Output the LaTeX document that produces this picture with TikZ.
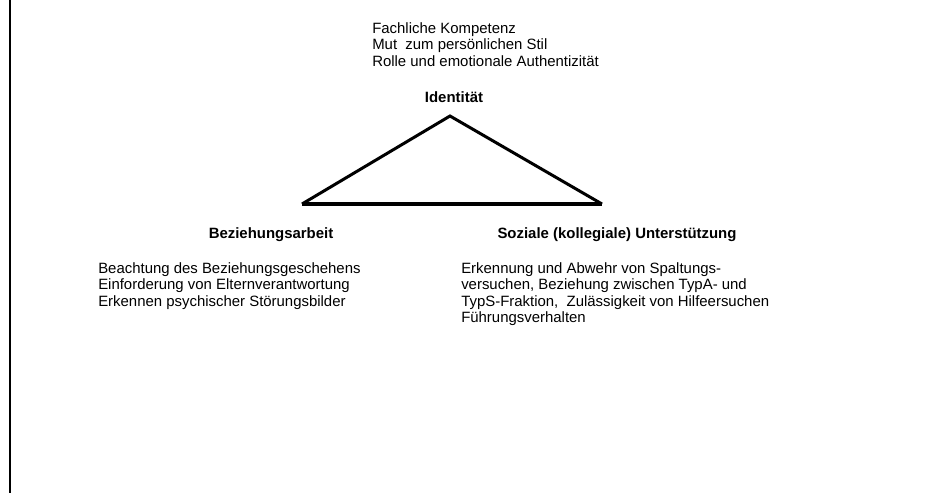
\documentclass[tikz,border=0pt]{standalone}
\usepackage{fontspec}
\setmainfont{Liberation Sans}
\usepackage{tikz}
\tikzset{
  liste/.style={anchor=north west, inner sep=0pt, align=left, font=\fontsize{11.2}{12.4}\selectfont},
  titel/.style={anchor=base, inner sep=0pt, font=\fontsize{11.2}{12.4}\selectfont\bfseries}
}

\begin{document}
\begin{tikzpicture}[x=0.75pt, y=-0.75pt]
  \useasboundingbox (0,0) rectangle (951,493);
  \draw[black, line width=1.5pt] (10,0) -- (10,493);
  % Dreieck
  \coordinate (I) at (450,116);
  \coordinate (B) at (302,204);
  \coordinate (S) at (602,204);
  \draw[black, line width=2.25pt, line join=miter] (B) -- (I) -- (S);
  \draw[black, line width=3pt] (B) -- (S);
  % Ecken
  \node[titel] (identitaet) at (454,102) {Identität};
  \node[titel] (beziehung) at (271,238) {Beziehungsarbeit};
  \node[titel] (sozial) at (617,238) {Soziale (kollegiale) Unterstützung};
  % Listen
  \node[liste] (identliste) at (372,22) {Fachliche Kompetenz\\Mut\ \ zum persönlichen Stil\\Rolle und emotionale Authentizität};
  \node[liste] (bezliste) at (98,262) {Beachtung des Beziehungsgeschehens\\Einforderung von Elternverantwortung\\Erkennen psychischer Störungsbilder};
  \node[liste] (sozliste) at (461,262) {Erkennung und Abwehr von Spaltungs-\\versuchen, Beziehung zwischen TypA- und\\TypS-Fraktion,\ \ Zulässigkeit von Hilfeersuchen\\Führungsverhalten};
\end{tikzpicture}
\end{document}
